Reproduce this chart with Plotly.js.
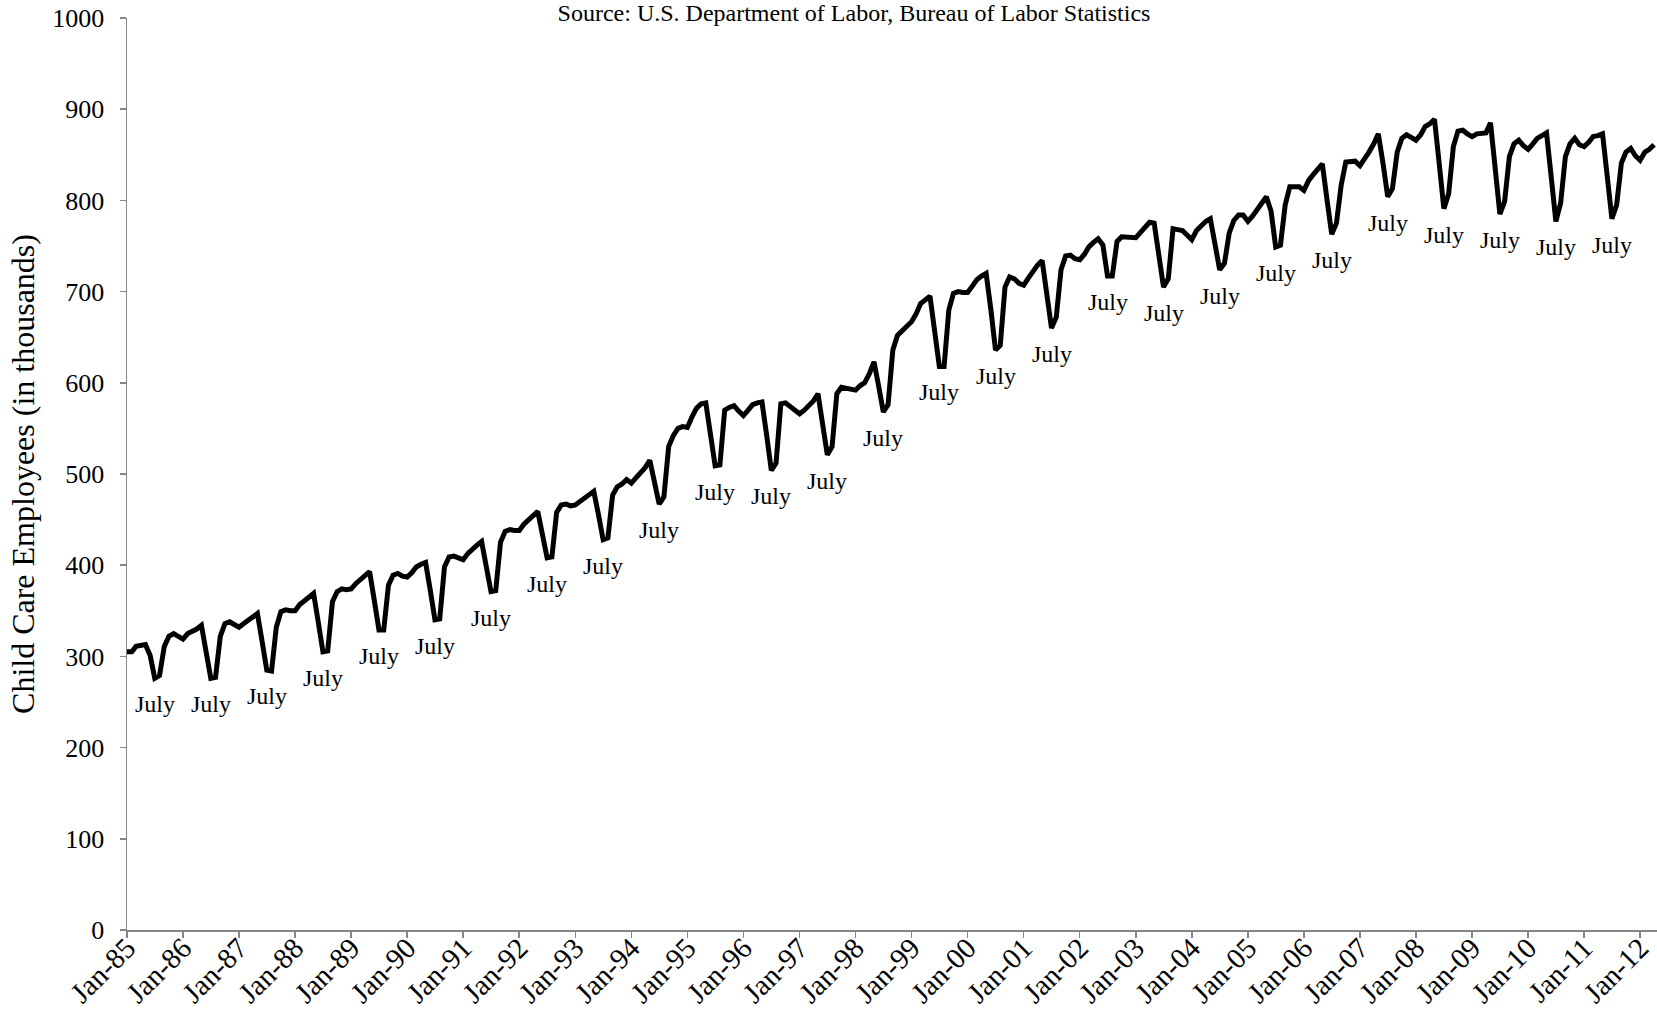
<!DOCTYPE html>
<html>
<head>
<meta charset="utf-8">
<script src="https://cdn.plot.ly/plotly-3.0.1.min.js"></script>
<style>
  html, body { margin: 0; padding: 0; background: #fff; }
  #chart { width: 1657px; height: 1010px; }
</style>
</head>
<body>
<div id="chart"></div>
<script>
// Monthly child care employees (thousands), Jan 1985 onward
const startYear = 1985;
const employees = [
  305, 305, 311, 312, 313, 301, 276, 279, 311, 322, 325, 322, // 1985
  319, 325, 327, 330, 334, 305, 276, 277, 322, 336, 338, 335, // 1986
  332, 336, 340, 343, 347, 316, 285, 284, 332, 349, 351, 350, // 1987
  350, 357, 361, 365, 369, 337, 305, 306, 360, 371, 374, 373, // 1988
  374, 380, 384, 389, 393, 361, 329, 329, 378, 389, 391, 388, // 1989
  387, 392, 398, 401, 403, 372, 340, 341, 398, 409, 410, 408, // 1990
  406, 413, 418, 422, 426, 398, 371, 372, 425, 437, 439, 438, // 1991
  438, 445, 450, 455, 459, 433, 408, 409, 458, 466, 467, 465, // 1992
  466, 470, 474, 478, 481, 455, 428, 430, 477, 486, 489, 494, // 1993
  490, 496, 501, 507, 515, 490, 467, 475, 530, 542, 550, 552, // 1994
  551, 563, 572, 577, 578, 543, 509, 510, 570, 573, 575, 569, // 1995
  564, 570, 576, 578, 579, 542, 504, 512, 577, 578, 574, 569, // 1996
  566, 570, 575, 580, 588, 555, 521, 530, 588, 595, 594, 593, // 1997
  592, 597, 600, 610, 623, 596, 568, 576, 636, 652, 658, 662, // 1998
  667, 676, 687, 692, 695, 656, 618, 618, 680, 698, 700, 699, // 1999
  699, 706, 713, 717, 720, 680, 636, 641, 705, 716, 714, 709, // 2000
  707, 715, 722, 729, 734, 698, 660, 672, 724, 739, 740, 736, // 2001
  735, 741, 749, 754, 758, 751, 717, 717, 755, 760, 760, 759, // 2002
  759, 765, 770, 776, 775, 740, 705, 714, 769, 768, 767, 762, // 2003
  757, 767, 772, 777, 780, 752, 724, 731, 764, 778, 784, 784, // 2004
  777, 783, 790, 797, 804, 788, 749, 751, 795, 815, 815, 815, // 2005
  811, 822, 828, 834, 840, 800, 763, 775, 817, 842, 843, 843, // 2006
  838, 845, 853, 862, 873, 840, 804, 813, 853, 868, 872, 869, // 2007
  866, 872, 881, 884, 889, 840, 791, 807, 859, 876, 877, 873, // 2008
  870, 873, 873, 874, 885, 835, 785, 799, 848, 862, 866, 860, // 2009
  856, 862, 868, 871, 874, 825, 777, 797, 848, 862, 868, 861, // 2010
  859, 864, 870, 871, 873, 826, 780, 795, 841, 853, 857, 849, // 2011
  844, 853, 856, 861                                          // 2012
];
const labelMonth = 7;          // July dips are labelled
const labelText = 'July';
const labelYears = [1985,1986,1987,1988,1989,1990,1991,1992,1993,1994,1995,1996,1997,1998,
                    1999,2000,2001,2002,2003,2004,2005,2006,2007,2008,2009,2010,2011];
const yTickVals = [0,100,200,300,400,500,600,700,800,900,1000];
const titleText = 'Source: U.S. Department of Labor, Bureau of Labor Statistics';
const yTitle = 'Child Care Employees (in thousands)';

function pad(n){ return (n < 10 ? '0' : '') + n; }
const dates = employees.map((v, i) => {
  const y = startYear + Math.floor(i / 12);
  const m = (i % 12) + 1;
  return y + '-' + pad(m) + '-01';
});

const FONT = 'Liberation Serif, Times New Roman, serif';
const AXIS = '#868686';

const annotations = labelYears.map(yr => {
  const idx = (yr - startYear) * 12 + (labelMonth - 1);
  return {
    x: dates[idx], y: employees[idx], xref: 'x', yref: 'y',
    text: labelText, showarrow: false, yshift: -26,
    font: {family: FONT, size: 24, color: '#000'}
  };
});

const trace = {
  x: dates, y: employees, type: 'scatter', mode: 'lines',
  line: {color: '#000', width: 5},
  hoverinfo: 'skip'
};

const layout = {
  width: 1657, height: 1010,
  paper_bgcolor: '#fff', plot_bgcolor: '#fff',
  margin: {l: 127, r: 0, t: 18, b: 80},
  showlegend: false,
  font: {family: FONT, color: '#000', size: 24},
  title: {
    text: titleText, font: {family: FONT, size: 24, color: '#000'},
    x: 0.5154, xanchor: 'center', xref: 'container',
    y: 0.988, yanchor: 'middle', yref: 'container'
  },
  xaxis: {
    type: 'date',
    range: ['1985-01-01', '2012-04-20'],
    tick0: '1985-01-01', dtick: 'M12', tickformat: '%b-%y',
    tickangle: -45,
    showgrid: false, zeroline: false,
    showline: true, linecolor: AXIS, linewidth: 1.5,
    ticks: 'outside', ticklen: 6, tickcolor: AXIS, tickwidth: 1.5,
    ticklabelstandoff: -18,
    tickfont: {family: FONT, size: 29, color: '#000'},
    automargin: false,
    fixedrange: true
  },
  yaxis: {
    range: [0, 1000],
    tickvals: yTickVals,
    showgrid: false, zeroline: false,
    showline: true, linecolor: AXIS, linewidth: 1.5,
    ticks: 'outside', ticklen: 6, tickcolor: AXIS, tickwidth: 1.5,
    ticklabelstandoff: 10,
    tickfont: {family: FONT, size: 26, color: '#000'},
    title: {text: yTitle, font: {family: FONT, size: 32, color: '#000'}, standoff: 8},
    automargin: false,
    fixedrange: true
  },
  annotations: annotations
};

Plotly.newPlot('chart', [trace], layout, {displayModeBar: false, staticPlot: true});
</script>
</body>
</html>
